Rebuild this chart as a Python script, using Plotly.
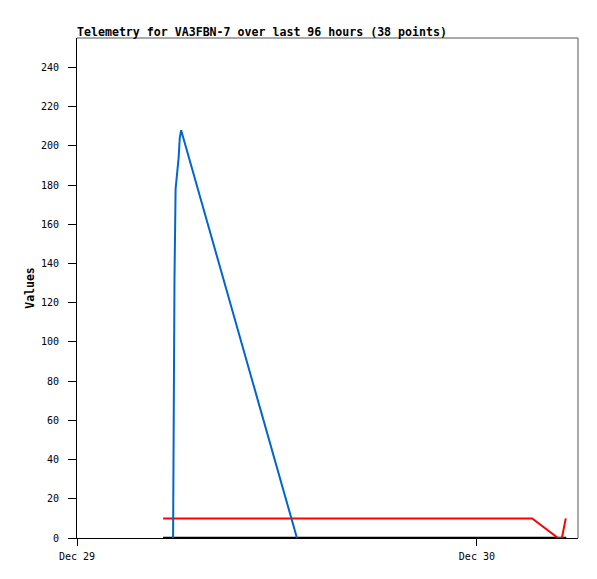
import plotly.graph_objects as go

blue_t = ["2023-12-29 05:46", "2023-12-29 05:47", "2023-12-29 05:51", "2023-12-29 05:55",
          "2023-12-29 06:00", "2023-12-29 06:03", "2023-12-29 06:06", "2023-12-29 06:10",
          "2023-12-29 06:15", "2023-12-29 13:12"]
blue_v = [0, 48, 132, 178, 184, 189, 194, 204, 208, 0]

red_t = ["2023-12-29 05:10", "2023-12-30 03:19", "2023-12-30 04:52", "2023-12-30 05:06",
         "2023-12-30 05:20"]
red_v = [10, 10, 0, 0, 10]

black_t = ["2023-12-29 05:10", "2023-12-30 05:22"]
black_v = [0, 0]

fig = go.Figure()
fig.add_trace(go.Scatter(x=black_t, y=black_v, mode="lines",
                         line=dict(color="#000000", width=2.5)))
fig.add_trace(go.Scatter(x=red_t, y=red_v, mode="lines",
                         line=dict(color="#ff0000", width=2)))
fig.add_trace(go.Scatter(x=blue_t, y=blue_v, mode="lines",
                         line=dict(color="#0066cc", width=2)))

mono = "DejaVu Sans Mono"
# page body has an 8px margin, so the figure is offset by (8, 8)
fig.update_layout(
    width=589, height=571,
    margin=dict(l=69, r=19, t=30, b=41),
    paper_bgcolor="white", plot_bgcolor="white",
    showlegend=False,
    title=dict(text="<b>Telemetry for VA3FBN-7 over last 96 hours (38 points)</b>",
               x=69/589, xanchor="left", y=1-28/571, yanchor="bottom",
               font=dict(family=mono, size=11.6, color="black")),
    xaxis=dict(range=["2023-12-29 00:00", "2023-12-30 06:04"],
               tickvals=["2023-12-29", "2023-12-30"], ticktext=["Dec 29", "Dec 30"],
               showgrid=False, zeroline=False, showline=True, linecolor="black",
               ticks="outside", ticklen=7, tickcolor="black", ticklabelstandoff=2,
               tickfont=dict(family=mono, size=10, color="black")),
    yaxis=dict(range=[0, 255], tickvals=list(range(0, 241, 20)),
               showgrid=False, zeroline=False, showline=True, linecolor="black",
               ticks="outside", ticklen=8, tickcolor="black", ticklabelstandoff=7,
               title=dict(text="<b>Values</b>", font=dict(family=mono, size=11.5, color="black"),
                          standoff=3),
               tickfont=dict(family=mono, size=10, color="black")),
    shapes=[
        dict(type="line", xref="paper", yref="paper", x0=0, x1=1, y0=1, y1=1,
             line=dict(color="#555555", width=1)),
        dict(type="line", xref="paper", yref="paper", x0=1, x1=1, y0=0, y1=1,
             line=dict(color="#555555", width=1)),
    ],
)
fig.write_html("out.html")
